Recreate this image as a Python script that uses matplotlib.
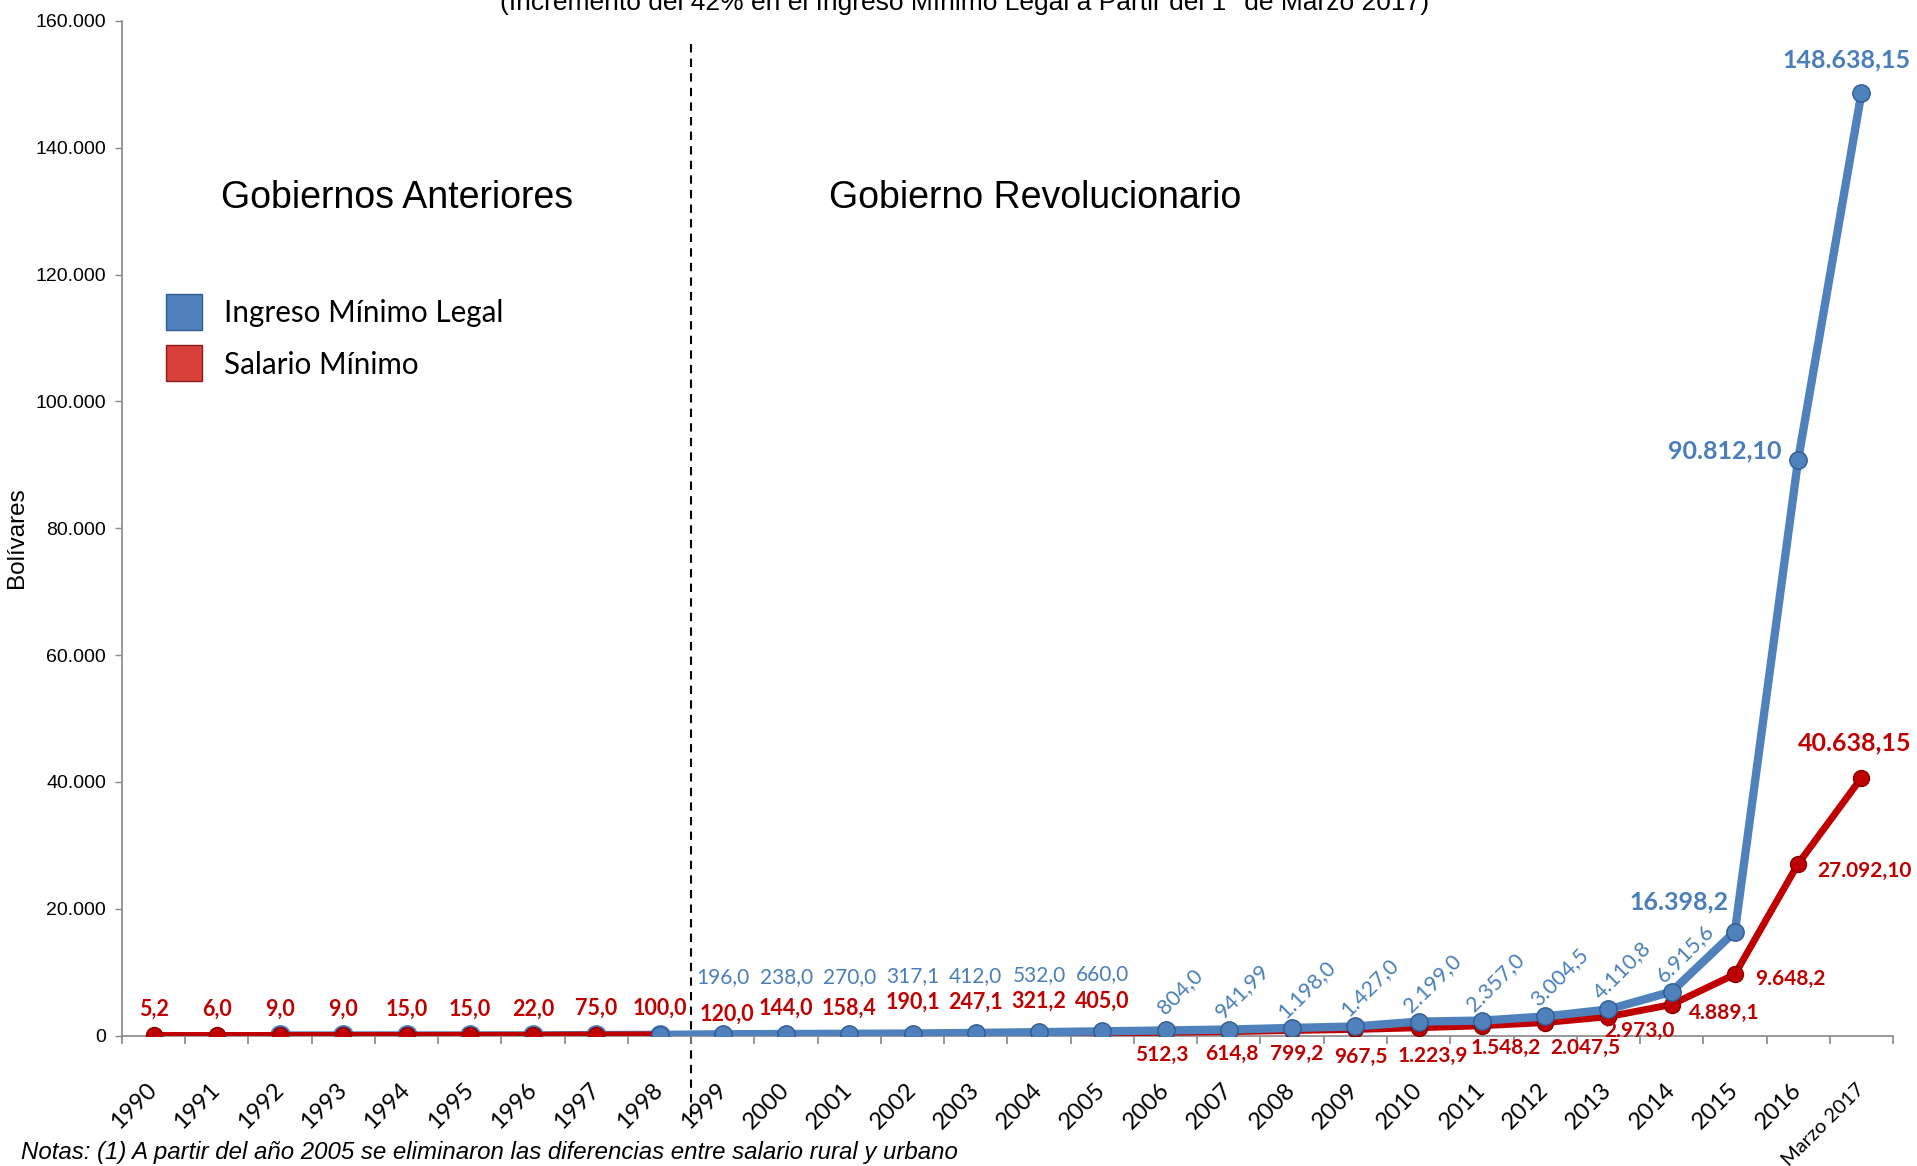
import numpy as np
import matplotlib.pyplot as plt
from matplotlib.lines import Line2D
from matplotlib.transforms import ScaledTranslation

# ---------- data (Bs.) ----------
years = ["1990", "1991", "1992", "1993", "1994", "1995", "1996", "1997", "1998",
         "1999", "2000", "2001", "2002", "2003", "2004", "2005", "2006", "2007",
         "2008", "2009", "2010", "2011", "2012", "2013", "2014", "2015", "2016",
         "Marzo 2017"]

salario_minimo = [5.2, 6.0, 9.0, 9.0, 15.0, 15.0, 22.0, 75.0, 100.0,
                  120.0, 144.0, 158.4, 190.1, 247.1, 321.2, 405.0, 512.3, 614.8,
                  799.2, 967.5, 1223.9, 1548.2, 2047.5, 2973.0, 4889.1, 9648.2,
                  27092.10, 40638.15]

ingreso_minimo = [np.nan, np.nan, 9.0, 9.0, 15.0, 15.0, 22.0, 75.0, 100.0,
                  196.0, 238.0, 270.0, 317.1, 412.0, 532.0, 660.0, 804.0, 941.99,
                  1198.0, 1427.0, 2199.0, 2357.0, 3004.5, 4110.8, 6915.6, 16398.2,
                  90812.10, 148638.15]

yticks = [0, 20000, 40000, 60000, 80000, 100000, 120000, 140000, 160000]

BLUE = "#4F81BD"
BLUE_TXT = "#4A7EBB"
RED = "#C00000"
LABEL_FONT = ["Lato", "DejaVu Sans"]
ARIAL = ["Liberation Sans", "DejaVu Sans"]


# label placement (offset in points from the point, size)
def red_place(i):
    if i <= 11:
        return ((3, 15) if i == 9 else (0, 19)), 15.5
    if i <= 15:
        return (0, 23), 15.5
    below = {16: (-3, -16), 17: (2, -16), 18: (3, -17), 19: (4, -20), 20: (10, -20),
             21: (17, -16), 22: (29, -18), 23: (22, -10), 24: (38, -6), 25: (40, -3),
             26: (48, -5)}
    if i in below:
        return below[i], 15
    return (-5, 25), 18


def blue_place(i):
    if i <= 15:
        return (0, 41), 0, 15, "normal"
    if i <= 24:
        return (10, 28), 45, 15.5, "normal"
    big = {25: (-40, 21), 26: (-53, 6), 27: (-11, 24)}
    return big[i], 0, 18, "bold"


def fmt(v):
    d = 2 if (abs(round(v, 1) - v) > 1e-9 or v > 20000) else 1
    s = f"{v:,.{d}f}"
    return s.replace(",", "X").replace(".", ",").replace("X", ".")


def main():
    plt.rcParams["font.family"] = ARIAL
    fig = plt.figure(figsize=(19.17, 11.66), dpi=100)
    ax = fig.add_axes([0.0636, 0.1119, 0.9239, 0.8701])

    x = np.arange(len(years))
    sal = np.array(salario_minimo)
    ing = np.array(ingreso_minimo)

    # blue under red for the early years, on top from 1998 onwards
    ax.plot(x[:9], ing[:9], color=BLUE, lw=6, marker="o", ms=14,
            mfc=BLUE, mec=BLUE, zorder=2, solid_capstyle="round")
    ax.plot(x, sal, color=RED, lw=5, marker="o", ms=11.5, mfc=RED,
            mec="#8B0000", mew=1, zorder=3, solid_joinstyle="round",
            solid_capstyle="round")
    ax.plot(x[8:], ing[8:], color=BLUE, lw=6, marker="o", ms=12.5, mfc=BLUE,
            mec="#2E5C91", mew=1, zorder=4, solid_joinstyle="round",
            solid_capstyle="round")

    for i, v in enumerate(salario_minimo):
        off, size = red_place(i)
        ax.annotate(fmt(v), (x[i], v), xytext=off, textcoords="offset points",
                    ha="center", va="center", fontsize=size,
                    fontweight="bold", color=RED, family=LABEL_FONT,
                    annotation_clip=False, zorder=6)
    for i, v in enumerate(ingreso_minimo):
        if i < 9:
            continue
        off, rot, size, weight = blue_place(i)
        ax.annotate(fmt(v), (x[i], v), xytext=off, textcoords="offset points",
                    ha="center", va="center", rotation=rot,
                    rotation_mode="anchor", fontsize=size, fontweight=weight,
                    color=BLUE_TXT, family=LABEL_FONT, annotation_clip=False,
                    zorder=6)

    # axes
    ax.set_xlim(-0.5, len(years) - 0.5)
    ax.set_ylim(0, 160000)
    ax.set_yticks(yticks)
    ax.set_yticklabels([f"{t:,}".replace(",", ".") for t in yticks], fontsize=14)
    ax.set_xticks(x)
    ax.set_xticks(np.arange(-0.5, len(years)), minor=True)
    ax.set_xticklabels(years, rotation=45, ha="right", va="center",
                       rotation_mode="anchor", fontsize=17, family=LABEL_FONT)
    shift = ScaledTranslation(6.5 / 72, 0, fig.dpi_scale_trans)
    for lab in ax.get_xticklabels():
        lab.set_transform(lab.get_transform() + shift)
    # Lato is wider than the original font: keep the long last label inside
    ax.get_xticklabels()[-1].set_fontsize(14.5)
    ax.tick_params(axis="x", which="major", length=0, pad=37)
    ax.tick_params(axis="x", which="minor", length=6, color="#888888", width=1.2,
                   direction="out")
    ax.tick_params(axis="y", length=5, color="#888888", width=1, pad=6.5)
    for s in ("top", "right"):
        ax.spines[s].set_visible(False)
    for s in ("left", "bottom"):
        ax.spines[s].set_color("#888888")
        ax.spines[s].set_linewidth(1.2)
    ax.patch.set_alpha(0)

    # dashed divider between governments
    ax.axvline(8.5, ymin=-0.080, ymax=0.977, color="black", ls=(0, (4, 3)),
               lw=1.5, clip_on=False, zorder=1)

    fig.text(0.207, 1 - 198.5 / 1166, "Gobiernos Anteriores", fontsize=27,
             ha="center", va="center")
    fig.text(0.540, 1 - 198.5 / 1166, "Gobierno Revolucionario", fontsize=27,
             ha="center", va="center")

    handles = [Line2D([], [], ls="none", marker="s", ms=26, mfc=BLUE, mec="#2E5C91"),
               Line2D([], [], ls="none", marker="s", ms=26, mfc="#D9403A", mec="#8B1A1A")]
    fig.legend(handles, ["Ingreso Mínimo Legal", "Salario Mínimo"],
               loc="upper left", bbox_to_anchor=(0.0865, 1 - 299 / 1166),
               frameon=False, borderpad=0, borderaxespad=0, handlelength=1.25,
               handletextpad=0.7, labelspacing=0.8,
               prop={"family": LABEL_FONT, "size": 21.3})

    fig.text(0.009, 1 - 538 / 1166, "Bolívares", rotation=90, fontsize=17.5,
             ha="center", va="center")
    fig.text(0.503, 1 - 10 / 1166,
             "(Incremento del 42% en el Ingreso Mínimo Legal a Partir del 1° de Marzo 2017)",
             fontsize=19, ha="center", va="baseline")
    fig.text(0.011, 1 - 1152 / 1166,
             "Notas: (1) A partir del año 2005 se eliminaron las diferencias entre salario rural y urbano",
             fontsize=17.3, style="italic", ha="left", va="center")

    fig.savefig("out.png", dpi=100)


if __name__ == "__main__":
    main()
